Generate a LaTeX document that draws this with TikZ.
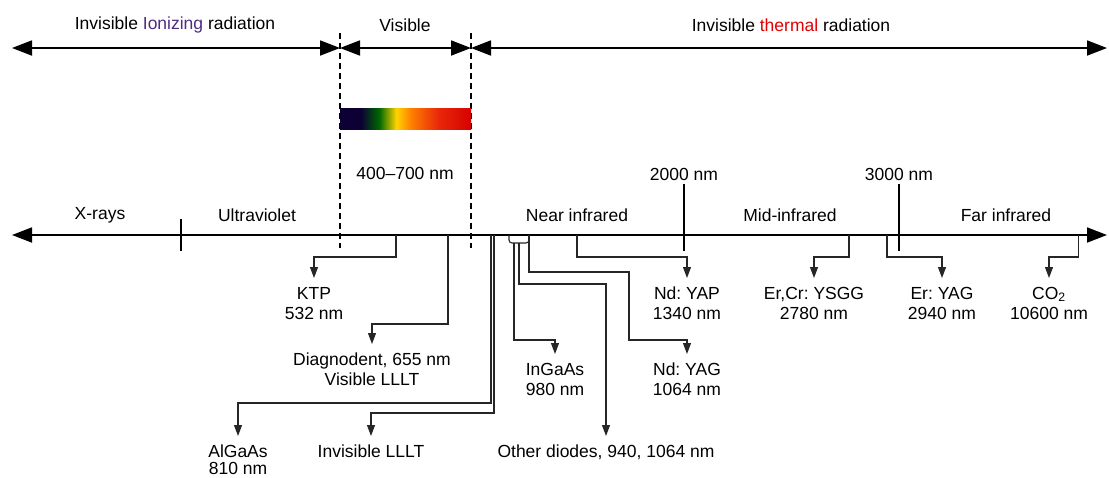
\documentclass[tikz,border=0pt]{standalone}
\usepackage{fontspec}
\setmainfont{Liberation Sans}
\usepackage{tikz}
\usetikzlibrary{arrows.meta}
\definecolor{ionviolet}{RGB}{78,44,128}
\definecolor{thermred}{RGB}{226,0,0}
\definecolor{specnavy}{RGB}{12,0,52}
\definecolor{specgreen}{RGB}{0,104,0}
\definecolor{specyellow}{RGB}{255,212,0}
\definecolor{specorange}{RGB}{255,128,0}
\definecolor{specscarlet}{RGB}{232,40,10}
\definecolor{specred}{RGB}{214,0,0}
\pgfdeclarehorizontalshading{spectrum}{100bp}{color(0bp)=(specnavy); color(25bp)=(specnavy); color(33bp)=(specnavy); color(40bp)=(specgreen); color(46.5bp)=(specyellow); color(52bp)=(specorange); color(62.5bp)=(specscarlet); color(75bp)=(specred); color(100bp)=(specred)}

\begin{document}
\frenchspacing
\begin{tikzpicture}[x=1pt,y=-1pt,font=\fontsize{17.5}{20}\selectfont,
	bigarrow/.style={line width=1.8pt,>={Triangle[length=20pt,width=15pt]},<->},
	feed/.style={line width=1.1pt,black!85,>={Triangle[length=11pt,width=8pt]},->},
	laser/.style={anchor=north,align=center,inner sep=0pt,outer ysep=9pt},
	axistick/.style={line width=2pt},
	bandline/.style={line width=1.5pt,dash pattern=on 6pt off 4pt}]
			\useasboundingbox (0,0) rectangle (1109,477);
			\coordinate (ionL) at (12,48);
			\coordinate (visL) at (340,48);
			\coordinate (visR) at (471,48);
			\coordinate (thR) at (1107,48);
			\draw[bigarrow] (ionL) -- (visL);
			\draw[bigarrow] (visL) -- (visR);
			\draw[bigarrow] (visR) -- (thR);
			\node (ionizing) at (175,25) {Invisible \textcolor{ionviolet}{Ionizing} radiation};
			\node (visible) at (405,25) {Visible};
			\node (thermal) at (791,25) {Invisible \textcolor{thermred}{thermal} radiation};
			\draw[bandline] (340,33) -- (340,248);
			\draw[bandline] (471,33) -- (471,248);
			\fill[shading=spectrum] (340,108) rectangle (471,129);
			\node (range) at (405,173) {400--700 nm};
			\coordinate (axL) at (12,235);
			\coordinate (axR) at (1107,235);
			\draw[bigarrow] (axL) -- (axR);
			\draw[axistick] (181,219) -- (181,251);
			\node (nm2000) at (684,174) {2000 nm};
			\node (nm3000) at (899,174) {3000 nm};
			\draw[axistick] (nm2000.south) -- (684,251);
			\draw[axistick] (nm3000.south) -- (899,251);
			\node (xrays) at (100,215) {X-rays};
			\node (uv) at (257,215) {Ultraviolet};
			\node (nir) at (577,215) {Near infrared};
			\node (mir) at (790,215) {Mid-infrared};
			\node (fir) at (1006,215) {Far infrared};
			\node[laser] (ktp) at (314,278) {KTP\\532 nm};
			\node[laser] (diagnodent) at (372,344) {Diagnodent, 655 nm\\Visible LLLT};
			\node[laser] (algaas) at (238,436) {AlGaAs\\[-3pt]810 nm};
			\node[laser] (invlllt) at (371,436) {Invisible LLLT};
			\node[laser] (ingaas) at (555,354) {InGaAs\\980 nm};
			\node[laser] (diodes) at (606,436) {Other diodes, 940, 1064 nm};
			\node[laser] (ndyag) at (687,354) {Nd: YAG\\1064 nm};
			\node[laser] (ndyap) at (687,278) {Nd: YAP\\1340 nm};
			\node[laser] (ercr) at (814,278) {Er,Cr: YSGG\\2780 nm};
			\node[laser] (eryag) at (942,278) {Er: YAG\\2940 nm};
			\node[laser] (cotwo) at (1049,278) {CO\textsubscript{2}\\10600 nm};
			\coordinate (ktpsrc) at (396,235);
			\coordinate (diagsrc) at (448,235);
			\coordinate (algaassrc) at (491,235);
			\coordinate (lllt) at (494,235);
			\coordinate (ingaassrc) at (514,243);
			\coordinate (diodesrc) at (519,243);
			\coordinate (ndyagsrc) at (529,235);
			\coordinate (ndyapsrc) at (577,235);
			\coordinate (ercrsrc) at (849,235);
			\coordinate (eryagsrc) at (887,235);
			\coordinate (cotwosrc) at (1078.5,235);
			\draw[feed] (ktpsrc) -- ++(0,22) -| (ktp.north);
			\draw[feed] (diagsrc) -- ++(0,89) -| (diagnodent.north);
			\draw[feed] (algaassrc) -- ++(0,168) -| (algaas.north);
			\draw[feed] (lllt) -- ++(0,178) -| (invlllt.north);
			\draw[line width=1.1pt,black!85,rounded corners=3pt] (509,235) -- (509,243) -- (529,243) -- (529,235);
			\draw[feed] (ingaassrc) -- ++(0,97) -| (ingaas.north);
			\draw[feed] (diodesrc) -- ++(0,41) -| (diodes.north);
			\draw[feed] (ndyagsrc) -- ++(0,37) -- (629,272) -- (629,340) -| (ndyag.north);
			\draw[feed] (ndyapsrc) -- ++(0,22) -| (ndyap.north);
			\draw[feed] (ercrsrc) -- ++(0,22) -| (ercr.north);
			\draw[feed] (eryagsrc) -- ++(0,22) -| (eryag.north);
			\draw[feed] (cotwosrc) -- ++(0,22) -| (cotwo.north);
		\end{tikzpicture}
\end{document}
